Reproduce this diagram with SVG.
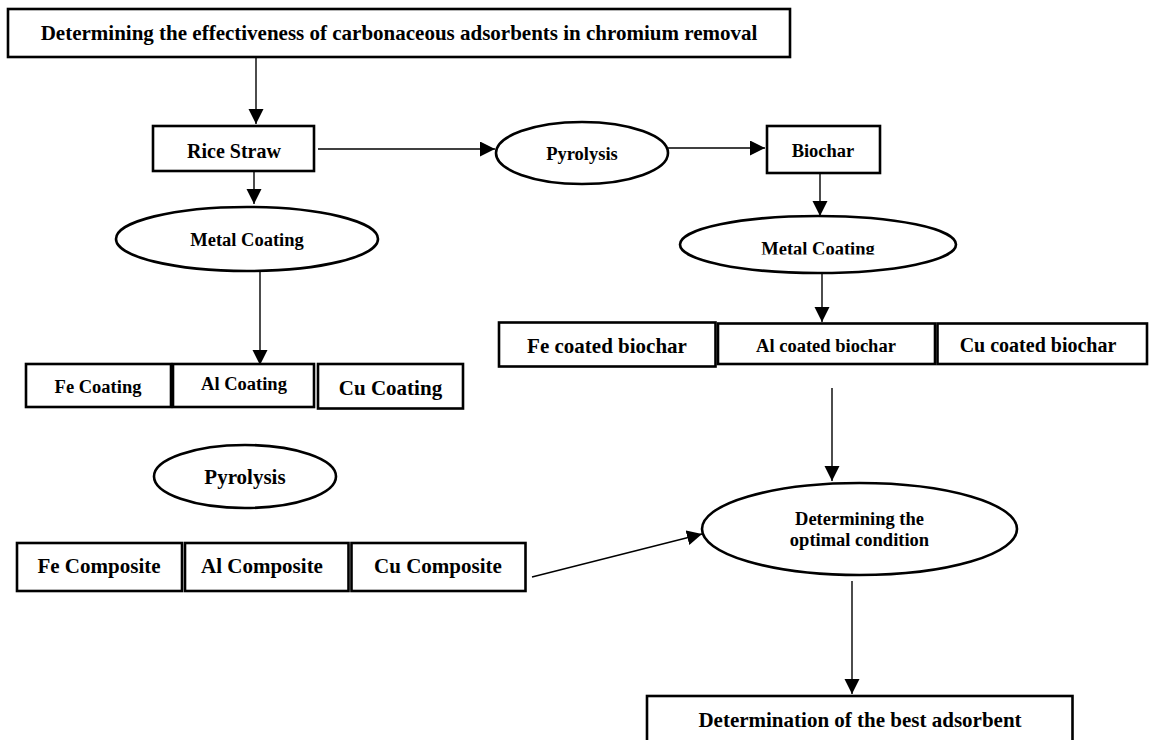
<svg xmlns="http://www.w3.org/2000/svg" width="1149" height="740" viewBox="0 0 1149 740">
<defs>
<style>
.box{fill:#fff;stroke:#000;stroke-width:2.6}
.ell{fill:#fff;stroke:#000;stroke-width:2.6}
.ln{fill:none;stroke:#000;stroke-width:1.4}
.arr{marker-end:url(#ah)}
text{font-family:"Liberation Serif","Times New Roman",serif;font-weight:bold;fill:#000;text-anchor:middle}
.s18{font-size:18.5px}
.s20{font-size:20px}
.s21{font-size:21px}
</style>
<marker id="ah" markerUnits="userSpaceOnUse" markerWidth="16" markerHeight="16" refX="15" refY="7.5" orient="auto">
<path d="M0,0 L15,7.5 L0,15 Z" fill="#000"/>
</marker>
<clipPath id="mcclip"><rect x="670" y="210" width="300" height="44.5"/></clipPath>
</defs>
<rect width="1149" height="740" fill="#fff"/>

<g id="connectors">
<line class="ln arr" x1="256" y1="57" x2="256" y2="124"/>
<line class="ln arr" x1="318" y1="149" x2="495" y2="149"/>
<line class="ln arr" x1="668" y1="148" x2="765" y2="148"/>
<line class="ln arr" x1="254" y1="172" x2="254" y2="204"/>
<line class="ln arr" x1="820" y1="174" x2="820" y2="216"/>
<line class="ln arr" x1="260" y1="271" x2="260" y2="365"/>
<line class="ln arr" x1="822" y1="269" x2="822" y2="322"/>
<line class="ln arr" x1="832" y1="388" x2="832" y2="481"/>
<line class="ln arr" x1="532" y1="577" x2="702" y2="534"/>
<line class="ln arr" x1="852" y1="581" x2="852" y2="694"/>
</g>

<g id="title">
<rect class="box" x="8" y="9" width="782" height="48"/>
<text class="s21" x="399" y="40">Determining the effectiveness of carbonaceous adsorbents in chromium removal</text>
</g>

<g id="rice-straw">
<rect class="box" x="153" y="126" width="161" height="45"/>
<text class="s20" x="234" y="158">Rice Straw</text>
</g>

<g id="pyrolysis-top">
<ellipse class="ell" cx="582" cy="153" rx="86" ry="31"/>
<text class="s18" x="582" y="160">Pyrolysis</text>
</g>

<g id="biochar">
<rect class="box" x="767" y="126" width="113" height="47"/>
<text class="s18" x="823" y="157">Biochar</text>
</g>

<g id="metal-coating-left">
<ellipse class="ell" cx="247" cy="239" rx="131" ry="32"/>
<text class="s18" x="247" y="246">Metal Coating</text>
</g>

<g id="metal-coating-right">
<ellipse class="ell" cx="818" cy="244.5" rx="138" ry="28.5"/>
<text class="s18" x="818" y="254.5" clip-path="url(#mcclip)">Metal Coating</text>
</g>

<g id="fe-coating">
<rect class="box" x="26" y="364" width="145" height="43"/>
<text class="s18" x="98" y="393">Fe Coating</text>
</g>
<g id="al-coating">
<rect class="box" x="173" y="364" width="141" height="43"/>
<text class="s18" x="244" y="390">Al Coating</text>
</g>
<g id="cu-coating">
<rect class="box" x="318" y="364" width="145" height="44.5"/>
<text class="s21" x="390.5" y="395">Cu Coating</text>
</g>

<g id="fe-coated-biochar">
<rect class="box" x="499" y="322.5" width="216.5" height="44"/>
<text class="s21" x="607" y="353">Fe coated biochar</text>
</g>
<g id="al-coated-biochar">
<rect class="box" x="718" y="323.5" width="217" height="40.5"/>
<text class="s18" x="826" y="351.5">Al coated biochar</text>
</g>
<g id="cu-coated-biochar">
<rect class="box" x="937.5" y="323.5" width="209.5" height="40.5"/>
<text class="s20" x="1038" y="351.5">Cu coated biochar</text>
</g>

<g id="pyrolysis-bottom">
<ellipse class="ell" cx="245" cy="476.5" rx="91" ry="31.5"/>
<text class="s21" x="245" y="484">Pyrolysis</text>
</g>

<g id="fe-composite">
<rect class="box" x="17" y="543" width="165" height="48"/>
<text class="s21" x="99" y="573">Fe Composite</text>
</g>
<g id="al-composite">
<rect class="box" x="185" y="543" width="163.5" height="48"/>
<text class="s21" x="262" y="573">Al Composite</text>
</g>
<g id="cu-composite">
<rect class="box" x="351.5" y="543" width="174" height="48"/>
<text class="s21" x="438" y="573">Cu Composite</text>
</g>

<g id="optimal-condition">
<ellipse class="ell" cx="859.5" cy="529" rx="157.5" ry="46"/>
<text class="s18" x="859.5" y="525">Determining the</text>
<text class="s18" x="859.5" y="546">optimal condition</text>
</g>

<g id="best-adsorbent">
<rect class="box" x="647" y="696" width="425.5" height="60"/>
<text class="s21" x="860" y="727">Determination of the best adsorbent</text>
</g>
</svg>
